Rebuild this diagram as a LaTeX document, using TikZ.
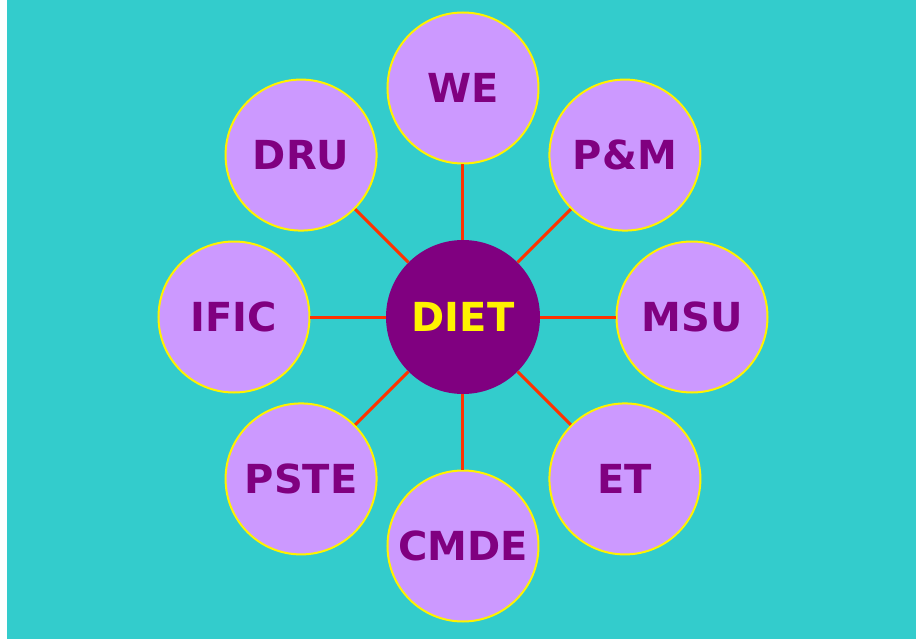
\documentclass[tikz,border=0pt]{standalone}
\usepackage{fontspec}
\setmainfont{DejaVu Sans}
\definecolor{sea}{HTML}{33CCCC}
\definecolor{lilac}{HTML}{CC99FF}
\definecolor{plum}{HTML}{800080}
\definecolor{spoke}{HTML}{FF3300}
\tikzset{
  hub/.style={circle, fill=plum, text=yellow, minimum size=154pt, inner sep=0pt,
    font=\fontsize{40}{40}\selectfont\bfseries},
  unit/.style={circle, draw=yellow, line width=2pt, fill=lilac, text=plum,
    minimum size=151pt, inner sep=0pt, font=\fontsize{40}{40}\selectfont\bfseries},
  link/.style={spoke, line width=3pt}
}
\begin{document}
\begin{tikzpicture}[x=1pt, y=1pt]
    \useasboundingbox (-463,-326) rectangle (453,317);
    \fill[sea] (-456,-322) rectangle (453,317);
    \node[hub] (diet) at (0,0) {DIET};
    % ring of units round the hub
    \foreach \a/\n/\t in {90/we/WE, 45/pm/P\&M, 0/msu/MSU, -45/et/ET, -90/cmde/CMDE, -135/pste/PSTE, 180/ific/IFIC, 135/dru/DRU} {
      \node[unit] (\n) at (\a:229) {\t};
      \draw[link] (diet) -- (\n);
    }
  \end{tikzpicture}
\end{document}
